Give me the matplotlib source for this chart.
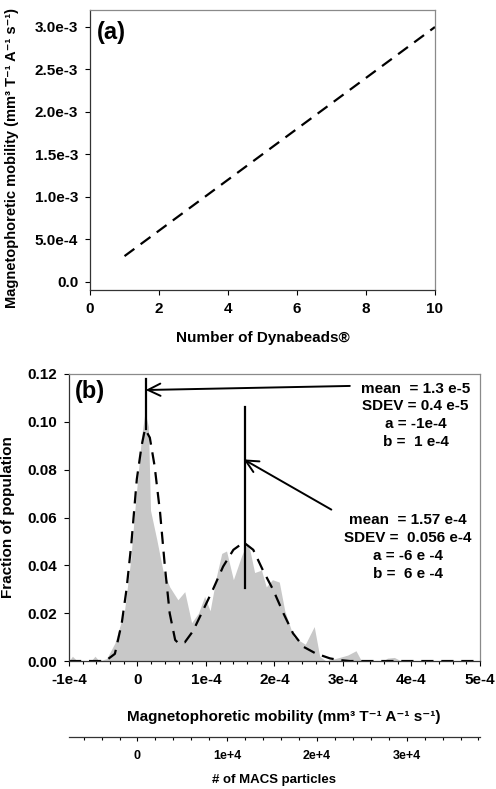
import numpy as np
import matplotlib.pyplot as plt
from matplotlib.ticker import MultipleLocator

plt.rcParams['font.family'] = ['Liberation Sans', 'DejaVu Sans']
plt.rcParams['font.weight'] = 'bold'
plt.rcParams['axes.labelweight'] = 'bold'

# --- (a) mobility vs number of Dynabeads ---
n_beads = [1, 2, 3, 4, 5, 6, 7, 8, 9, 10]
mob_beads = [0.3e-3, 0.6e-3, 0.9e-3, 1.2e-3, 1.5e-3, 1.8e-3, 2.1e-3, 2.4e-3, 2.7e-3, 3.0e-3]
a_yticks = [0.0, 0.5e-3, 1.0e-3, 1.5e-3, 2.0e-3, 2.5e-3, 3.0e-3]
a_yticklabels = ['0.0', '5.0e-4', '1.0e-3', '1.5e-3', '2.0e-3', '2.5e-3', '3.0e-3']

# --- (b) measured distribution (mobility in units of 1e-4) ---
hist_mob = [-1.00, -0.95, -0.88, -0.68, -0.62, -0.56, -0.45, -0.33, -0.19, -0.10,
            -0.03, 0.06, 0.11, 0.16, 0.19, 0.28, 0.37, 0.47, 0.59, 0.69,
            0.79, 0.89, 0.98, 1.06, 1.15, 1.23, 1.30, 1.40, 1.52, 1.59,
            1.64, 1.71, 1.81, 1.88, 1.97, 2.07, 2.15, 2.28, 2.45, 2.58,
            2.66, 2.75, 2.95, 3.07, 3.19, 3.27, 3.58, 3.65, 3.75, 3.85, 5.00]
hist_frac = [0.000, 0.002, 0.000, 0.000, 0.002, 0.000, 0.001, 0.0075, 0.021, 0.042,
             0.066, 0.094, 0.104, 0.098, 0.063, 0.051, 0.038, 0.031, 0.0256, 0.029,
             0.016, 0.020, 0.027, 0.021, 0.035, 0.045, 0.046, 0.034, 0.044, 0.0486,
             0.0465, 0.037, 0.038, 0.031, 0.034, 0.033, 0.021, 0.010, 0.007, 0.0144,
             0.002, 0.000, 0.0015, 0.0025, 0.0043, 0.000, 0.000, 0.0012, 0.0015, 0.000, 0.000]

# bimodal fit
fit_mob = [-1.00, -0.50, -0.45, -0.33, -0.23, -0.16, -0.09, -0.01, 0.06, 0.11,
           0.18, 0.25, 0.33, 0.40, 0.47, 0.55, 0.60, 0.69, 0.81, 0.96,
           1.10, 1.25, 1.40, 1.55, 1.69, 1.83, 1.98, 2.13, 2.27, 2.42,
           2.60, 2.81, 2.95, 3.10, 5.00]
fit_frac = [0.0, 0.0, 0.0004, 0.003, 0.0158, 0.030, 0.049, 0.076, 0.090, 0.097,
            0.0934, 0.0815, 0.062, 0.0395, 0.020, 0.0088, 0.0074, 0.0078, 0.0125, 0.0214,
            0.0298, 0.0395, 0.0465, 0.0496, 0.0465, 0.038, 0.0298, 0.020, 0.0116, 0.006,
            0.0032, 0.0011, 0.0004, 0.0, 0.0]

# mean markers: (x, y_bottom, y_top)
mean1_line = (0.13, 0.097, 0.118)
mean2_line = (1.57, 0.0305, 0.106)

b_xticks = [-1, 0, 1, 2, 3, 4, 5]
b_xticklabels = ['-1e-4', '0', '1e-4', '2e-4', '3e-4', '4e-4', '5e-4']
b_yticks = [0.00, 0.02, 0.04, 0.06, 0.08, 0.10, 0.12]

macs_ticks = [0, 1e4, 2e4, 3e4]
macs_labels = ['0', '1e+4', '2e+4', '3e+4']
mob_per_1e4_macs = 1.31  # 1e4 particles <-> 1.31e-4 mobility

text1 = 'mean  = 1.3 e-5\nSDEV = 0.4 e-5\na = -1e-4\nb =  1 e-4'
text2 = 'mean  = 1.57 e-4\nSDEV =  0.056 e-4\na = -6 e -4\nb =  6 e -4'

unit = '(mm\u00b3 T\u207b\u00b9 A\u207b\u00b9 s\u207b\u00b9)'

fig = plt.figure(figsize=(4.96, 7.89), dpi=100)


def style_spines(ax):
    for side in ['left', 'bottom']:
        ax.spines[side].set_color('#333333')
        ax.spines[side].set_linewidth(0.9)
    for side in ['top', 'right']:
        ax.spines[side].set_color('#8a8a8a')
        ax.spines[side].set_linewidth(0.9)
    ax.tick_params(direction='out', length=3.5, width=0.8, labelsize=11, pad=5)
    ax.tick_params(which='minor', direction='out', length=2.5, width=0.8)


# ---- panel (a) ----
ax1 = fig.add_axes([0.1815, 0.6324, 0.6955, 0.3549])
ax1.plot(n_beads, mob_beads, color='black', linewidth=1.6, linestyle=(0, (5.5, 3.5)))
ax1.set_xlim(0, 10)
ax1.set_ylim(-0.1e-3, 3.2e-3)
ax1.set_xticks([0, 2, 4, 6, 8, 10])
ax1.set_yticks(a_yticks, labels=a_yticklabels)
style_spines(ax1)
ax1.set_xlabel('Number of Dynabeads\u00ae', fontsize=11)
ax1.xaxis.set_label_coords(0.5, -0.145)
ax1.set_ylabel('Magnetophoretic mobility ' + unit, fontsize=10.5)
ax1.yaxis.set_label_coords(-0.205, 0.47)
ax1.text(0.02, 0.96, '(a)', transform=ax1.transAxes, fontsize=17,
         fontweight='bold', ha='left', va='top')

# ---- panel (b) ----
ax2 = fig.add_axes([0.1391, 0.1622, 0.8286, 0.3638])
ax2.fill_between(hist_mob, hist_frac, 0, color='#c8c8c8', linewidth=0)
ax2.plot(fit_mob, fit_frac, color='black', linewidth=1.6, linestyle=(0, (5.5, 3.5)))
for xm, y0, y1 in [mean1_line, mean2_line]:
    ax2.plot([xm, xm], [y0, y1], color='black', linewidth=1.6)

arrow = dict(arrowstyle='->,head_length=0.45,head_width=0.22', lw=1.4,
             color='black', mutation_scale=20, shrinkA=0, shrinkB=0)
ax2.annotate('', xy=(0.12, 0.1133), xytext=(3.10, 0.1150), arrowprops=arrow)
ax2.annotate('', xy=(1.55, 0.0843), xytext=(2.83, 0.0633), arrowprops=arrow)

ax2.text(4.06, 0.1168, text1, ha='center', va='top', fontsize=11,
         fontweight='bold', linespacing=1.35)
ax2.text(3.95, 0.0618, text2, ha='center', va='top', fontsize=11,
         fontweight='bold', linespacing=1.35)
ax2.text(0.015, 0.98, '(b)', transform=ax2.transAxes, fontsize=17,
         fontweight='bold', ha='left', va='top')

ax2.set_xlim(-1, 5)
ax2.set_ylim(0, 0.12)
ax2.set_xticks(b_xticks, labels=b_xticklabels)
ax2.xaxis.set_minor_locator(MultipleLocator(0.2))
ax2.set_yticks(b_yticks, labels=['%.2f' % v for v in b_yticks])
style_spines(ax2)
ax2.set_xlabel('Magnetophoretic mobility ' + unit, fontsize=11)
ax2.xaxis.set_label_coords(0.523, -0.171)
ax2.set_ylabel('Fraction of population', fontsize=11)
ax2.yaxis.set_label_coords(-0.132, 0.5)

# secondary axis: number of MACS particles
secax = ax2.secondary_xaxis(-0.265, functions=(
    lambda m: np.asarray(m) / mob_per_1e4_macs * 1e4,
    lambda p: np.asarray(p) * mob_per_1e4_macs / 1e4))
secax.set_xticks(macs_ticks, labels=macs_labels)
secax.xaxis.set_minor_locator(MultipleLocator(2000))
secax.spines['bottom'].set_color('#333333')
secax.spines['bottom'].set_linewidth(0.9)
secax.tick_params(direction='out', length=3, width=0.8, labelsize=9, pad=6)
secax.tick_params(which='minor', direction='out', length=2, width=0.8)
secax.set_xlabel('# of MACS particles', fontsize=9.5, labelpad=9)

fig.savefig('out.png', dpi=100)
